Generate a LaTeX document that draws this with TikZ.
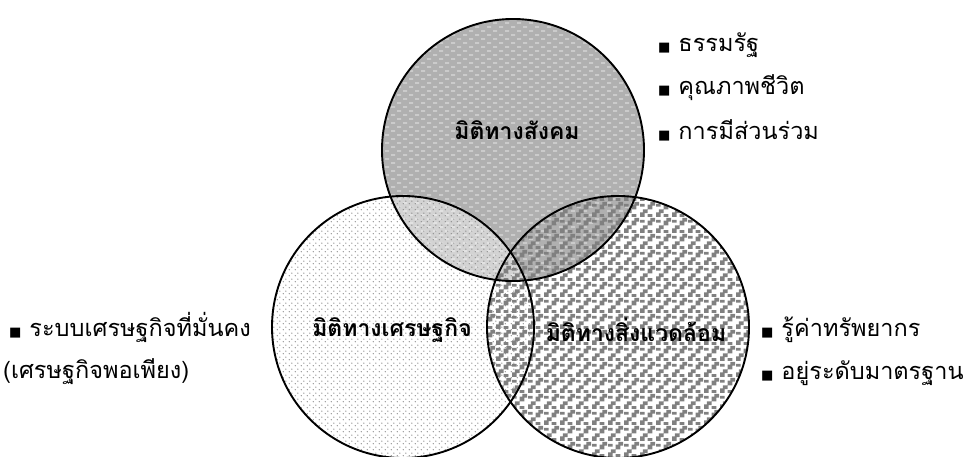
\documentclass[tikz,border=0pt]{standalone}
\usepackage{fontspec}
\newfontfamily\thaifont[Script=Thai]{Loma}
\newfontfamily\symfont{DejaVu Sans}
\usetikzlibrary{patterns}
\pgfdeclarepatternformonly{waves}{\pgfqpoint{-1pt}{-1pt}}{\pgfqpoint{13pt}{9pt}}{\pgfqpoint{12pt}{8pt}}{
  \pgfsetlinewidth{0.9pt}
  \pgfpathmoveto{\pgfqpoint{1pt}{2pt}}
  \pgfpathcurveto{\pgfqpoint{2.5pt}{3.5pt}}{\pgfqpoint{3.5pt}{0.5pt}}{\pgfqpoint{5pt}{2pt}}
  \pgfpathmoveto{\pgfqpoint{7pt}{6pt}}
  \pgfpathcurveto{\pgfqpoint{8.5pt}{7.5pt}}{\pgfqpoint{9.5pt}{4.5pt}}{\pgfqpoint{11pt}{6pt}}
  \pgfusepath{stroke}
}
\pgfdeclarepatternformonly{specks}{\pgfqpoint{0pt}{0pt}}{\pgfqpoint{6pt}{6pt}}{\pgfqpoint{6pt}{6pt}}{
  \pgfpathcircle{\pgfqpoint{1.5pt}{1.5pt}}{0.75pt}
  \pgfpathcircle{\pgfqpoint{4.5pt}{4.5pt}}{0.75pt}
  \pgfusepath{fill}
}
\pgfdeclarepatternformonly{steps}{\pgfqpoint{0pt}{0pt}}{\pgfqpoint{16pt}{16pt}}{\pgfqpoint{16pt}{16pt}}{
  \pgfpathrectangle{\pgfqpoint{0pt}{0pt}}{\pgfqpoint{5pt}{5pt}}
  \pgfpathrectangle{\pgfqpoint{3pt}{4pt}}{\pgfqpoint{5pt}{4pt}}
  \pgfpathrectangle{\pgfqpoint{8pt}{0pt}}{\pgfqpoint{5pt}{3pt}}
  \pgfpathrectangle{\pgfqpoint{8pt}{8pt}}{\pgfqpoint{5pt}{5pt}}
  \pgfpathrectangle{\pgfqpoint{11pt}{12pt}}{\pgfqpoint{5pt}{4pt}}
  \pgfpathrectangle{\pgfqpoint{0pt}{11pt}}{\pgfqpoint{5pt}{3pt}}
  \pgfusepath{fill}
}
\newcommand{\sq}{{\symfont\fontsize{13}{13}\selectfont ■}\hspace{8pt}}

\begin{document}
\begin{tikzpicture}[
    x=1pt,y=-1pt,
    ring/.style={line width=1.9pt},
    dim/.style={font=\thaifont\bfseries\fontsize{23}{26}\selectfont,inner sep=0pt},
    item/.style={anchor=west,font=\thaifont\fontsize{23.5}{26}\selectfont,inner sep=0pt}
    ]
    \useasboundingbox (0,0) rectangle (968,457);
    \fill[gray!62] (513,150) circle[radius=131];
    \fill[pattern=waves,pattern color=white] (513,150) circle[radius=131];
    \fill[white,fill opacity=0.45] (403,327) circle[radius=131];
    \fill[pattern=specks,pattern color=gray] (403,327) circle[radius=131];
    \fill[pattern=steps,pattern color=gray] (618,327) circle[radius=131];
    \draw[ring] (513,150) circle[radius=131];
    \draw[ring] (403,327) circle[radius=131];
    \draw[ring] (618,327) circle[radius=131];
    \node[dim] (social) at (517,130) {มิติทางสังคม};
    \node[dim] (economy) at (392,330) {มิติทางเศรษฐกิจ};
    \node[dim] (environ) at (636,330) {มิติทางสิ่งแวดล้อม};
    \node[item] (s1) at (658,45) {\sq ธรรมรัฐ};
    \node[item] (s2) at (658,88) {\sq คุณภาพชีวิต};
    \node[item] (s3) at (658,130) {\sq การมีส่วนร่วม};
    \node[item] (e1) at (9,327) {\sq ระบบเศรษฐกิจที่มั่นคง};
    \node[item] (e2) at (3,372) {(เศรษฐกิจพอเพียง)};
    \node[item] (v1) at (761,330) {\sq รู้ค่าทรัพยากร};
    \node[item] (v2) at (761,373) {\sq อยู่ระดับมาตรฐาน};
\end{tikzpicture}
\end{document}
